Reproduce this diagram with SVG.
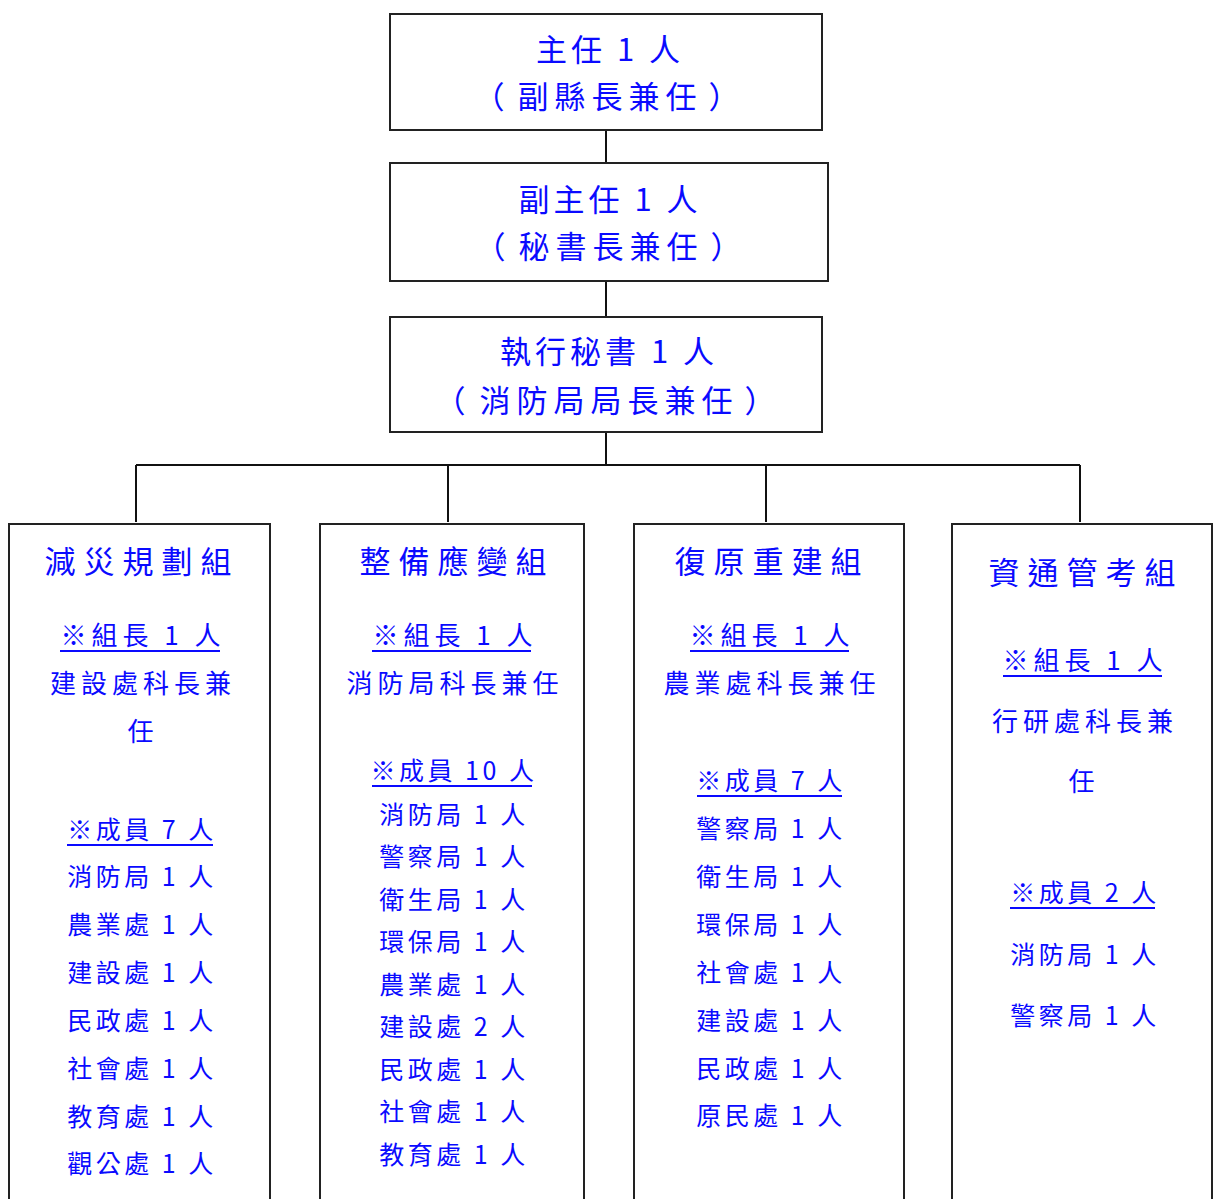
<svg xmlns="http://www.w3.org/2000/svg" width="1216" height="1199" viewBox="0 0 1216 1199">
<style>
.box{fill:#ffffff;stroke:#222222;stroke-width:2}
.conn{fill:none;stroke:#111111;stroke-width:2}
text{font-family:"Noto Sans CJK TC","Noto Sans CJK SC",sans-serif;fill:#0a0aff;text-anchor:middle}
.t30{font-size:31px;letter-spacing:4px}
.tp{font-size:31px;letter-spacing:6px}
.pp{font-size:31px}
.tt{font-size:31px;letter-spacing:8px}
.t26{font-size:26px;letter-spacing:5px}
.t24{font-size:25px;letter-spacing:3.5px}
.ul{stroke:#0a0aff;stroke-width:2}
</style>
<rect x="0" y="0" width="1216" height="1199" fill="#ffffff"/>
<g id="connectors">
<path class="conn" d="M606 130V163M606 281V317M606 432V465M136 465H1080M136 465V522M448 465V522M766 465V522M1080 465V522"/>
</g>
<g id="n-director">
<rect class="box" x="390" y="14" width="432" height="116"/>
<text class="t30" x="610" y="61">主任 1 人</text>
<text class="tp" x="610" y="108">副縣長兼任</text>
<text class="pp" x="489" y="108">（</text>
<text class="pp" x="724" y="108">）</text>
</g>
<g id="n-deputy">
<rect class="box" x="390" y="163" width="438" height="118"/>
<text class="t30" x="610" y="211">副主任 1 人</text>
<text class="tp" x="611" y="258">秘書長兼任</text>
<text class="pp" x="490" y="258">（</text>
<text class="pp" x="726" y="258">）</text>
</g>
<g id="n-exec">
<rect class="box" x="390" y="317" width="432" height="115"/>
<text class="t30" x="609" y="363">執行秘書 1 人</text>
<text class="tp" x="609" y="412">消防局局長兼任</text>
<text class="pp" x="450" y="412">（</text>
<text class="pp" x="760" y="412">）</text>
</g>
<g id="n-group-a">
<rect class="box" x="9" y="524" width="261" height="700"/>
<text class="tt" x="142" y="573">減災規劃組</text>
<text class="t26" x="143" y="645">※組長 1 人</text>
<line class="ul" x1="60" y1="651" x2="220" y2="651"/>
<text class="t26" x="143" y="693">建設處科長兼</text>
<text class="t26" x="143" y="741">任</text>
<text class="t24" x="142" y="839">※成員 7 人</text>
<line class="ul" x1="67" y1="845" x2="213" y2="845"/>
<text class="t24" x="142" y="886">消防局 1 人</text>
<text class="t24" x="142" y="934">農業處 1 人</text>
<text class="t24" x="142" y="982">建設處 1 人</text>
<text class="t24" x="142" y="1030">民政處 1 人</text>
<text class="t24" x="142" y="1078">社會處 1 人</text>
<text class="t24" x="142" y="1126">教育處 1 人</text>
<text class="t24" x="142" y="1173">觀公處 1 人</text>
</g>
<g id="n-group-b">
<rect class="box" x="320" y="524" width="264" height="700"/>
<text class="tt" x="457" y="573">整備應變組</text>
<text class="t26" x="455" y="645">※組長 1 人</text>
<line class="ul" x1="372" y1="651" x2="531" y2="651"/>
<text class="t26" x="455" y="693">消防局科長兼任</text>
<text class="t24" x="454" y="780">※成員 10 人</text>
<line class="ul" x1="372" y1="786" x2="532" y2="786"/>
<text class="t24" x="454" y="824">消防局 1 人</text>
<text class="t24" x="454" y="866">警察局 1 人</text>
<text class="t24" x="454" y="909">衛生局 1 人</text>
<text class="t24" x="454" y="951">環保局 1 人</text>
<text class="t24" x="454" y="994">農業處 1 人</text>
<text class="t24" x="454" y="1036">建設處 2 人</text>
<text class="t24" x="454" y="1079">民政處 1 人</text>
<text class="t24" x="454" y="1121">社會處 1 人</text>
<text class="t24" x="454" y="1164">教育處 1 人</text>
</g>
<g id="n-group-c">
<rect class="box" x="634" y="524" width="270" height="700"/>
<text class="tt" x="772" y="573">復原重建組</text>
<text class="t26" x="772" y="645">※組長 1 人</text>
<line class="ul" x1="690" y1="651" x2="849" y2="651"/>
<text class="t26" x="772" y="693">農業處科長兼任</text>
<text class="t24" x="771" y="790">※成員 7 人</text>
<line class="ul" x1="697" y1="796" x2="842" y2="796"/>
<text class="t24" x="771" y="838">警察局 1 人</text>
<text class="t24" x="771" y="886">衛生局 1 人</text>
<text class="t24" x="771" y="934">環保局 1 人</text>
<text class="t24" x="771" y="982">社會處 1 人</text>
<text class="t24" x="771" y="1030">建設處 1 人</text>
<text class="t24" x="771" y="1078">民政處 1 人</text>
<text class="t24" x="771" y="1125">原民處 1 人</text>
</g>
<g id="n-group-d">
<rect class="box" x="952" y="524" width="260" height="700"/>
<text class="tt" x="1086" y="584">資通管考組</text>
<text class="t26" x="1085" y="670">※組長 1 人</text>
<line class="ul" x1="1003" y1="676" x2="1162" y2="676"/>
<text class="t26" x="1085" y="731">行研處科長兼</text>
<text class="t26" x="1084" y="791">任</text>
<text class="t24" x="1085" y="902">※成員 2 人</text>
<line class="ul" x1="1010" y1="908" x2="1155" y2="908"/>
<text class="t24" x="1085" y="964">消防局 1 人</text>
<text class="t24" x="1085" y="1025">警察局 1 人</text>
</g>
</svg>
